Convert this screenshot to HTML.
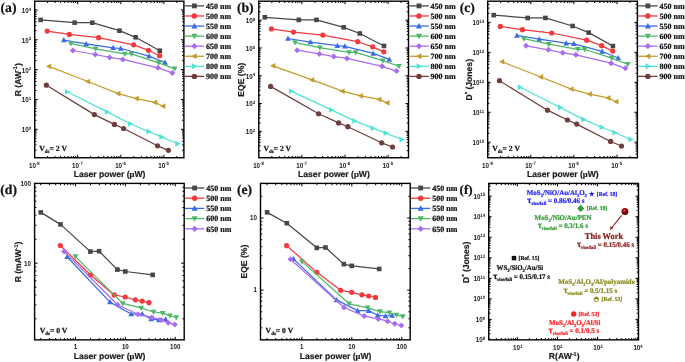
<!DOCTYPE html>
<html><head><meta charset="utf-8"><style>
html,body{margin:0;padding:0;background:#fff;width:685px;height:362px;overflow:hidden}
svg{display:block;will-change:transform}
</style></head><body>
<svg width="685" height="362" viewBox="0 0 685 362" text-rendering="geometricPrecision">
<rect width="685" height="362" fill="#fff"/>
<rect x="34.7" y="1.2" width="149.2" height="156.55" fill="none" stroke="#000" stroke-width="1.4"/>
<path d="M47.57 157.75v-1.8M47.57 1.2v1.8M55.16 157.75v-1.8M55.16 1.2v1.8M60.55 157.75v-1.8M60.55 1.2v1.8M64.73 157.75v-1.8M64.73 1.2v1.8M68.14 157.75v-1.8M68.14 1.2v1.8M71.02 157.75v-1.8M71.02 1.2v1.8M73.52 157.75v-1.8M73.52 1.2v1.8M75.73 157.75v-1.8M75.73 1.2v1.8M77.7 157.75v-3M77.7 1.2v3M90.67 157.75v-1.8M90.67 1.2v1.8M98.26 157.75v-1.8M98.26 1.2v1.8M103.65 157.75v-1.8M103.65 1.2v1.8M107.83 157.75v-1.8M107.83 1.2v1.8M111.24 157.75v-1.8M111.24 1.2v1.8M114.12 157.75v-1.8M114.12 1.2v1.8M116.62 157.75v-1.8M116.62 1.2v1.8M118.83 157.75v-1.8M118.83 1.2v1.8M120.8 157.75v-3M120.8 1.2v3M133.77 157.75v-1.8M133.77 1.2v1.8M141.36 157.75v-1.8M141.36 1.2v1.8M146.75 157.75v-1.8M146.75 1.2v1.8M150.93 157.75v-1.8M150.93 1.2v1.8M154.34 157.75v-1.8M154.34 1.2v1.8M157.22 157.75v-1.8M157.22 1.2v1.8M159.72 157.75v-1.8M159.72 1.2v1.8M161.93 157.75v-1.8M161.93 1.2v1.8M163.9 157.75v-3M163.9 1.2v3M176.87 157.75v-1.8M176.87 1.2v1.8" stroke="#000" stroke-width="1" fill="none"/>
<path d="M34.7 150.16h1.8M183.9 150.16h-1.8M34.7 144.91h1.8M183.9 144.91h-1.8M34.7 141.18h1.8M183.9 141.18h-1.8M34.7 138.29h1.8M183.9 138.29h-1.8M34.7 135.92h1.8M183.9 135.92h-1.8M34.7 133.92h1.8M183.9 133.92h-1.8M34.7 132.19h1.8M183.9 132.19h-1.8M34.7 130.67h1.8M183.9 130.67h-1.8M34.7 129.3h3M183.9 129.3h-3M34.7 120.31h1.8M183.9 120.31h-1.8M34.7 115.06h1.8M183.9 115.06h-1.8M34.7 111.33h1.8M183.9 111.33h-1.8M34.7 108.44h1.8M183.9 108.44h-1.8M34.7 106.07h1.8M183.9 106.07h-1.8M34.7 104.07h1.8M183.9 104.07h-1.8M34.7 102.34h1.8M183.9 102.34h-1.8M34.7 100.82h1.8M183.9 100.82h-1.8M34.7 99.45h3M183.9 99.45h-3M34.7 90.46h1.8M183.9 90.46h-1.8M34.7 85.21h1.8M183.9 85.21h-1.8M34.7 81.48h1.8M183.9 81.48h-1.8M34.7 78.59h1.8M183.9 78.59h-1.8M34.7 76.22h1.8M183.9 76.22h-1.8M34.7 74.22h1.8M183.9 74.22h-1.8M34.7 72.49h1.8M183.9 72.49h-1.8M34.7 70.97h1.8M183.9 70.97h-1.8M34.7 69.6h3M183.9 69.6h-3M34.7 60.61h1.8M183.9 60.61h-1.8M34.7 55.36h1.8M183.9 55.36h-1.8M34.7 51.63h1.8M183.9 51.63h-1.8M34.7 48.74h1.8M183.9 48.74h-1.8M34.7 46.37h1.8M183.9 46.37h-1.8M34.7 44.37h1.8M183.9 44.37h-1.8M34.7 42.64h1.8M183.9 42.64h-1.8M34.7 41.12h1.8M183.9 41.12h-1.8M34.7 39.75h3M183.9 39.75h-3M34.7 30.76h1.8M183.9 30.76h-1.8M34.7 25.51h1.8M183.9 25.51h-1.8M34.7 21.78h1.8M183.9 21.78h-1.8M34.7 18.89h1.8M183.9 18.89h-1.8M34.7 16.52h1.8M183.9 16.52h-1.8M34.7 14.52h1.8M183.9 14.52h-1.8M34.7 12.79h1.8M183.9 12.79h-1.8M34.7 11.27h1.8M183.9 11.27h-1.8M34.7 9.9h3M183.9 9.9h-3" stroke="#000" stroke-width="1" fill="none"/>
<text transform="translate(34.3,167.65) scale(1,1.14)" font-family="Liberation Sans, sans-serif" font-weight="bold" font-size="6.25" fill="#1a1a1a" text-anchor="middle">10<tspan font-size="4.25" dy="-2">-8</tspan></text>
<text transform="translate(77.4,167.65) scale(1,1.14)" font-family="Liberation Sans, sans-serif" font-weight="bold" font-size="6.25" fill="#1a1a1a" text-anchor="middle">10<tspan font-size="4.25" dy="-2">-7</tspan></text>
<text transform="translate(120.5,167.65) scale(1,1.14)" font-family="Liberation Sans, sans-serif" font-weight="bold" font-size="6.25" fill="#1a1a1a" text-anchor="middle">10<tspan font-size="4.25" dy="-2">-6</tspan></text>
<text transform="translate(163.6,167.65) scale(1,1.14)" font-family="Liberation Sans, sans-serif" font-weight="bold" font-size="6.25" fill="#1a1a1a" text-anchor="middle">10<tspan font-size="4.25" dy="-2">-5</tspan></text>
<text transform="translate(31.1,132.2) scale(1,1.14)" font-family="Liberation Sans, sans-serif" font-weight="bold" font-size="6.25" fill="#1a1a1a" text-anchor="end">10<tspan font-size="4.25" dy="-2">0</tspan></text>
<text transform="translate(31.1,102.35) scale(1,1.14)" font-family="Liberation Sans, sans-serif" font-weight="bold" font-size="6.25" fill="#1a1a1a" text-anchor="end">10<tspan font-size="4.25" dy="-2">1</tspan></text>
<text transform="translate(31.1,72.5) scale(1,1.14)" font-family="Liberation Sans, sans-serif" font-weight="bold" font-size="6.25" fill="#1a1a1a" text-anchor="end">10<tspan font-size="4.25" dy="-2">2</tspan></text>
<text transform="translate(31.1,42.65) scale(1,1.14)" font-family="Liberation Sans, sans-serif" font-weight="bold" font-size="6.25" fill="#1a1a1a" text-anchor="end">10<tspan font-size="4.25" dy="-2">3</tspan></text>
<text transform="translate(31.1,12.8) scale(1,1.14)" font-family="Liberation Sans, sans-serif" font-weight="bold" font-size="6.25" fill="#1a1a1a" text-anchor="end">10<tspan font-size="4.25" dy="-2">4</tspan></text>
<path d="M40.6 19.9L74.6 22.7L92.3 22.7L119.5 30.7L135.6 37.3L159.8 50.7" fill="none" stroke="#474747" stroke-width="1.25" stroke-linejoin="round"/>
<rect x="38.3" y="17.6" width="4.6" height="4.6" fill="#474747"/>
<rect x="72.3" y="20.4" width="4.6" height="4.6" fill="#474747"/>
<rect x="90" y="20.4" width="4.6" height="4.6" fill="#474747"/>
<rect x="117.2" y="28.4" width="4.6" height="4.6" fill="#474747"/>
<rect x="133.3" y="35" width="4.6" height="4.6" fill="#474747"/>
<rect x="157.5" y="48.4" width="4.6" height="4.6" fill="#474747"/>
<path d="M47.2 31.1L69.3 34.4L98.6 37.7L133.6 44.8L148.5 50.3L159.6 55.7" fill="none" stroke="#f23a3e" stroke-width="1.25" stroke-linejoin="round"/>
<circle cx="47.2" cy="31.1" r="2.6" fill="#f23a3e"/>
<circle cx="69.3" cy="34.4" r="2.6" fill="#f23a3e"/>
<circle cx="98.6" cy="37.7" r="2.6" fill="#f23a3e"/>
<circle cx="133.6" cy="44.8" r="2.6" fill="#f23a3e"/>
<circle cx="148.5" cy="50.3" r="2.6" fill="#f23a3e"/>
<circle cx="159.6" cy="55.7" r="2.6" fill="#f23a3e"/>
<path d="M63.8 40.1L86.2 43.9L113.2 47.8L120.7 48.5L149.1 56.1L165.1 62.6" fill="none" stroke="#3a6be6" stroke-width="1.25" stroke-linejoin="round"/>
<path d="M63.8 37.1L66.65 42.35L60.95 42.35Z" fill="#3a6be6"/>
<path d="M86.2 40.9L89.05 46.15L83.35 46.15Z" fill="#3a6be6"/>
<path d="M113.2 44.8L116.05 50.05L110.35 50.05Z" fill="#3a6be6"/>
<path d="M120.7 45.5L123.55 50.75L117.85 50.75Z" fill="#3a6be6"/>
<path d="M149.1 53.1L151.95 58.35L146.25 58.35Z" fill="#3a6be6"/>
<path d="M165.1 59.6L167.95 64.85L162.25 64.85Z" fill="#3a6be6"/>
<path d="M70.8 43.4L95.6 48.8L124.8 53.9L131.5 53.9L158.7 62.8L174.7 68.8" fill="none" stroke="#4cb867" stroke-width="1.25" stroke-linejoin="round"/>
<path d="M70.8 46.4L73.65 41.15L67.95 41.15Z" fill="#4cb867"/>
<path d="M95.6 51.8L98.45 46.55L92.75 46.55Z" fill="#4cb867"/>
<path d="M124.8 56.9L127.65 51.65L121.95 51.65Z" fill="#4cb867"/>
<path d="M131.5 56.9L134.35 51.65L128.65 51.65Z" fill="#4cb867"/>
<path d="M158.7 65.8L161.55 60.55L155.85 60.55Z" fill="#4cb867"/>
<path d="M174.7 71.8L177.55 66.55L171.85 66.55Z" fill="#4cb867"/>
<path d="M72.9 50.5L95.3 54.5L109.6 57.4L122.8 59.4L158 67.8L172.3 72.9" fill="none" stroke="#a86cf0" stroke-width="1.25" stroke-linejoin="round"/>
<path d="M72.9 47.5L75.9 50.5L72.9 53.5L69.9 50.5Z" fill="#a86cf0"/>
<path d="M95.3 51.5L98.3 54.5L95.3 57.5L92.3 54.5Z" fill="#a86cf0"/>
<path d="M109.6 54.4L112.6 57.4L109.6 60.4L106.6 57.4Z" fill="#a86cf0"/>
<path d="M122.8 56.4L125.8 59.4L122.8 62.4L119.8 59.4Z" fill="#a86cf0"/>
<path d="M158 64.8L161 67.8L158 70.8L155 67.8Z" fill="#a86cf0"/>
<path d="M172.3 69.9L175.3 72.9L172.3 75.9L169.3 72.9Z" fill="#a86cf0"/>
<path d="M48.9 66.3L87.8 81.5L118.2 93.6L136.5 98.6L155 102.4L163.1 106.2" fill="none" stroke="#c49b2c" stroke-width="1.25" stroke-linejoin="round"/>
<path d="M45.9 66.3L51.15 63.45L51.15 69.15Z" fill="#c49b2c"/>
<path d="M84.8 81.5L90.05 78.65L90.05 84.35Z" fill="#c49b2c"/>
<path d="M115.2 93.6L120.45 90.75L120.45 96.45Z" fill="#c49b2c"/>
<path d="M133.5 98.6L138.75 95.75L138.75 101.45Z" fill="#c49b2c"/>
<path d="M152 102.4L157.25 99.55L157.25 105.25Z" fill="#c49b2c"/>
<path d="M160.1 106.2L165.35 103.35L165.35 109.05Z" fill="#c49b2c"/>
<path d="M67.1 91.8L107.2 111.9L130.4 123.8L148.7 131.6L161.6 136.9L177.6 143.8" fill="none" stroke="#4fe3d6" stroke-width="1.25" stroke-linejoin="round"/>
<path d="M70.1 91.8L64.85 88.95L64.85 94.65Z" fill="#4fe3d6"/>
<path d="M110.2 111.9L104.95 109.05L104.95 114.75Z" fill="#4fe3d6"/>
<path d="M133.4 123.8L128.15 120.95L128.15 126.65Z" fill="#4fe3d6"/>
<path d="M151.7 131.6L146.45 128.75L146.45 134.45Z" fill="#4fe3d6"/>
<path d="M164.6 136.9L159.35 134.05L159.35 139.75Z" fill="#4fe3d6"/>
<path d="M180.6 143.8L175.35 140.95L175.35 146.65Z" fill="#4fe3d6"/>
<path d="M46.4 85.2L94.4 114.6L114.4 124.4L123.6 128.5L157.5 145.8L168.4 150.3" fill="none" stroke="#6e3d3d" stroke-width="1.25" stroke-linejoin="round"/>
<circle cx="46.4" cy="85.2" r="2.6" fill="#6e3d3d"/>
<circle cx="94.4" cy="114.6" r="2.6" fill="#6e3d3d"/>
<circle cx="114.4" cy="124.4" r="2.6" fill="#6e3d3d"/>
<circle cx="123.6" cy="128.5" r="2.6" fill="#6e3d3d"/>
<circle cx="157.5" cy="145.8" r="2.6" fill="#6e3d3d"/>
<circle cx="168.4" cy="150.3" r="2.6" fill="#6e3d3d"/>
<path d="M184.7 5.9H204.1" stroke="#474747" stroke-width="1.3"/>
<rect x="191.99" y="3.49" width="4.83" height="4.83" fill="#474747"/>
<text x="206" y="8.7" font-family="Liberation Serif, serif" font-weight="bold" font-size="8" fill="#111" stroke="#111" stroke-width="0.22">450 nm</text>
<path d="M184.7 15.97H204.1" stroke="#f23a3e" stroke-width="1.3"/>
<circle cx="194.4" cy="15.97" r="2.73" fill="#f23a3e"/>
<text x="206" y="18.77" font-family="Liberation Serif, serif" font-weight="bold" font-size="8" fill="#111" stroke="#111" stroke-width="0.22">500 nm</text>
<path d="M184.7 26.04H204.1" stroke="#3a6be6" stroke-width="1.3"/>
<path d="M194.4 22.89L197.39 28.4L191.41 28.4Z" fill="#3a6be6"/>
<text x="206" y="28.84" font-family="Liberation Serif, serif" font-weight="bold" font-size="8" fill="#111" stroke="#111" stroke-width="0.22">550 nm</text>
<path d="M184.7 36.11H204.1" stroke="#4cb867" stroke-width="1.3"/>
<path d="M194.4 39.26L197.39 33.75L191.41 33.75Z" fill="#4cb867"/>
<text x="206" y="38.91" font-family="Liberation Serif, serif" font-weight="bold" font-size="8" fill="#111" stroke="#111" stroke-width="0.22">600 nm</text>
<path d="M184.7 46.18H204.1" stroke="#a86cf0" stroke-width="1.3"/>
<path d="M194.4 43.03L197.55 46.18L194.4 49.33L191.25 46.18Z" fill="#a86cf0"/>
<text x="206" y="48.98" font-family="Liberation Serif, serif" font-weight="bold" font-size="8" fill="#111" stroke="#111" stroke-width="0.22">650 nm</text>
<path d="M184.7 56.25H204.1" stroke="#c49b2c" stroke-width="1.3"/>
<path d="M191.25 56.25L196.76 53.26L196.76 59.24Z" fill="#c49b2c"/>
<text x="206" y="59.05" font-family="Liberation Serif, serif" font-weight="bold" font-size="8" fill="#111" stroke="#111" stroke-width="0.22">700 nm</text>
<path d="M184.7 66.32H204.1" stroke="#4fe3d6" stroke-width="1.3"/>
<path d="M197.55 66.32L192.04 63.33L192.04 69.31Z" fill="#4fe3d6"/>
<text x="206" y="69.12" font-family="Liberation Serif, serif" font-weight="bold" font-size="8" fill="#111" stroke="#111" stroke-width="0.22">800 nm</text>
<path d="M184.7 76.39H204.1" stroke="#6e3d3d" stroke-width="1.3"/>
<circle cx="194.4" cy="76.39" r="2.73" fill="#6e3d3d"/>
<text x="206" y="79.19" font-family="Liberation Serif, serif" font-weight="bold" font-size="8" fill="#111" stroke="#111" stroke-width="0.22">900 nm</text>
<text x="0.5" y="11.6" font-family="Liberation Serif, serif" font-weight="bold" font-size="13.7" fill="#111" stroke="#111" stroke-width="0.22">(a)</text>
<text x="109.6" y="176.8" font-family="Liberation Sans, sans-serif" font-weight="bold" font-size="8.6" fill="#1a1a1a" stroke="#1a1a1a" stroke-width="0.18" text-anchor="middle">Laser power (<tspan font-family="Liberation Serif, serif">μ</tspan>W)</text>
<text transform="translate(20.6,79.77) rotate(-90)" font-family="Liberation Sans, sans-serif" font-weight="bold" font-size="8.6" fill="#1a1a1a" stroke="#1a1a1a" stroke-width="0.18" text-anchor="middle">R (AW<tspan font-size="5.5" dy="-3.3">-1</tspan><tspan dy="3.3">)</tspan></text>
<text x="39.3" y="151" font-family="Liberation Serif, serif" font-weight="bold" font-size="7.7" fill="#111" stroke="#111" stroke-width="0.22">V<tspan font-size="4.9" dy="2.0">ds</tspan><tspan dy="-2.0">= 2 V</tspan></text>
<rect x="258.8" y="1.2" width="149.7" height="156.55" fill="none" stroke="#000" stroke-width="1.4"/>
<path d="M271.77 157.75v-1.8M271.77 1.2v1.8M279.36 157.75v-1.8M279.36 1.2v1.8M284.75 157.75v-1.8M284.75 1.2v1.8M288.93 157.75v-1.8M288.93 1.2v1.8M292.34 157.75v-1.8M292.34 1.2v1.8M295.22 157.75v-1.8M295.22 1.2v1.8M297.72 157.75v-1.8M297.72 1.2v1.8M299.93 157.75v-1.8M299.93 1.2v1.8M301.9 157.75v-3M301.9 1.2v3M314.87 157.75v-1.8M314.87 1.2v1.8M322.46 157.75v-1.8M322.46 1.2v1.8M327.85 157.75v-1.8M327.85 1.2v1.8M332.03 157.75v-1.8M332.03 1.2v1.8M335.44 157.75v-1.8M335.44 1.2v1.8M338.32 157.75v-1.8M338.32 1.2v1.8M340.82 157.75v-1.8M340.82 1.2v1.8M343.03 157.75v-1.8M343.03 1.2v1.8M345 157.75v-3M345 1.2v3M357.97 157.75v-1.8M357.97 1.2v1.8M365.56 157.75v-1.8M365.56 1.2v1.8M370.95 157.75v-1.8M370.95 1.2v1.8M375.13 157.75v-1.8M375.13 1.2v1.8M378.54 157.75v-1.8M378.54 1.2v1.8M381.42 157.75v-1.8M381.42 1.2v1.8M383.92 157.75v-1.8M383.92 1.2v1.8M386.13 157.75v-1.8M386.13 1.2v1.8M388.1 157.75v-3M388.1 1.2v3M401.07 157.75v-1.8M401.07 1.2v1.8" stroke="#000" stroke-width="1" fill="none"/>
<path d="M258.8 150.74h1.8M408.5 150.74h-1.8M258.8 145.85h1.8M408.5 145.85h-1.8M258.8 142.37h1.8M408.5 142.37h-1.8M258.8 139.68h1.8M408.5 139.68h-1.8M258.8 137.48h1.8M408.5 137.48h-1.8M258.8 135.62h1.8M408.5 135.62h-1.8M258.8 134.01h1.8M408.5 134.01h-1.8M258.8 132.59h1.8M408.5 132.59h-1.8M258.8 131.32h3M408.5 131.32h-3M258.8 122.96h1.8M408.5 122.96h-1.8M258.8 118.07h1.8M408.5 118.07h-1.8M258.8 114.59h1.8M408.5 114.59h-1.8M258.8 111.9h1.8M408.5 111.9h-1.8M258.8 109.7h1.8M408.5 109.7h-1.8M258.8 107.84h1.8M408.5 107.84h-1.8M258.8 106.23h1.8M408.5 106.23h-1.8M258.8 104.81h1.8M408.5 104.81h-1.8M258.8 103.54h3M408.5 103.54h-3M258.8 95.18h1.8M408.5 95.18h-1.8M258.8 90.29h1.8M408.5 90.29h-1.8M258.8 86.81h1.8M408.5 86.81h-1.8M258.8 84.12h1.8M408.5 84.12h-1.8M258.8 81.92h1.8M408.5 81.92h-1.8M258.8 80.06h1.8M408.5 80.06h-1.8M258.8 78.45h1.8M408.5 78.45h-1.8M258.8 77.03h1.8M408.5 77.03h-1.8M258.8 75.76h3M408.5 75.76h-3M258.8 67.4h1.8M408.5 67.4h-1.8M258.8 62.51h1.8M408.5 62.51h-1.8M258.8 59.03h1.8M408.5 59.03h-1.8M258.8 56.34h1.8M408.5 56.34h-1.8M258.8 54.14h1.8M408.5 54.14h-1.8M258.8 52.28h1.8M408.5 52.28h-1.8M258.8 50.67h1.8M408.5 50.67h-1.8M258.8 49.25h1.8M408.5 49.25h-1.8M258.8 47.98h3M408.5 47.98h-3M258.8 39.62h1.8M408.5 39.62h-1.8M258.8 34.73h1.8M408.5 34.73h-1.8M258.8 31.25h1.8M408.5 31.25h-1.8M258.8 28.56h1.8M408.5 28.56h-1.8M258.8 26.36h1.8M408.5 26.36h-1.8M258.8 24.5h1.8M408.5 24.5h-1.8M258.8 22.89h1.8M408.5 22.89h-1.8M258.8 21.47h1.8M408.5 21.47h-1.8M258.8 20.2h3M408.5 20.2h-3M258.8 11.84h1.8M408.5 11.84h-1.8M258.8 6.95h1.8M408.5 6.95h-1.8M258.8 3.47h1.8M408.5 3.47h-1.8" stroke="#000" stroke-width="1" fill="none"/>
<text transform="translate(258.5,167.65) scale(1,1.14)" font-family="Liberation Sans, sans-serif" font-weight="bold" font-size="6.25" fill="#1a1a1a" text-anchor="middle">10<tspan font-size="4.25" dy="-2">-8</tspan></text>
<text transform="translate(301.6,167.65) scale(1,1.14)" font-family="Liberation Sans, sans-serif" font-weight="bold" font-size="6.25" fill="#1a1a1a" text-anchor="middle">10<tspan font-size="4.25" dy="-2">-7</tspan></text>
<text transform="translate(344.7,167.65) scale(1,1.14)" font-family="Liberation Sans, sans-serif" font-weight="bold" font-size="6.25" fill="#1a1a1a" text-anchor="middle">10<tspan font-size="4.25" dy="-2">-6</tspan></text>
<text transform="translate(387.8,167.65) scale(1,1.14)" font-family="Liberation Sans, sans-serif" font-weight="bold" font-size="6.25" fill="#1a1a1a" text-anchor="middle">10<tspan font-size="4.25" dy="-2">-5</tspan></text>
<text transform="translate(255.2,134.22) scale(1,1.14)" font-family="Liberation Sans, sans-serif" font-weight="bold" font-size="6.25" fill="#1a1a1a" text-anchor="end">10<tspan font-size="4.25" dy="-2">2</tspan></text>
<text transform="translate(255.2,106.44) scale(1,1.14)" font-family="Liberation Sans, sans-serif" font-weight="bold" font-size="6.25" fill="#1a1a1a" text-anchor="end">10<tspan font-size="4.25" dy="-2">3</tspan></text>
<text transform="translate(255.2,78.66) scale(1,1.14)" font-family="Liberation Sans, sans-serif" font-weight="bold" font-size="6.25" fill="#1a1a1a" text-anchor="end">10<tspan font-size="4.25" dy="-2">4</tspan></text>
<text transform="translate(255.2,50.88) scale(1,1.14)" font-family="Liberation Sans, sans-serif" font-weight="bold" font-size="6.25" fill="#1a1a1a" text-anchor="end">10<tspan font-size="4.25" dy="-2">5</tspan></text>
<text transform="translate(255.2,23.1) scale(1,1.14)" font-family="Liberation Sans, sans-serif" font-weight="bold" font-size="6.25" fill="#1a1a1a" text-anchor="end">10<tspan font-size="4.25" dy="-2">6</tspan></text>
<path d="M264.8 17.28L298.8 19.88L316.5 19.88L343.7 27.33L359.8 33.47L384 45.94" fill="none" stroke="#474747" stroke-width="1.25" stroke-linejoin="round"/>
<rect x="262.5" y="14.98" width="4.6" height="4.6" fill="#474747"/>
<rect x="296.5" y="17.58" width="4.6" height="4.6" fill="#474747"/>
<rect x="314.2" y="17.58" width="4.6" height="4.6" fill="#474747"/>
<rect x="341.4" y="25.03" width="4.6" height="4.6" fill="#474747"/>
<rect x="357.5" y="31.17" width="4.6" height="4.6" fill="#474747"/>
<rect x="381.7" y="43.64" width="4.6" height="4.6" fill="#474747"/>
<path d="M271.4 28.97L293.5 32.04L322.8 35.11L357.8 41.72L372.7 46.84L383.8 51.87" fill="none" stroke="#f23a3e" stroke-width="1.25" stroke-linejoin="round"/>
<circle cx="271.4" cy="28.97" r="2.6" fill="#f23a3e"/>
<circle cx="293.5" cy="32.04" r="2.6" fill="#f23a3e"/>
<circle cx="322.8" cy="35.11" r="2.6" fill="#f23a3e"/>
<circle cx="357.8" cy="41.72" r="2.6" fill="#f23a3e"/>
<circle cx="372.7" cy="46.84" r="2.6" fill="#f23a3e"/>
<circle cx="383.8" cy="51.87" r="2.6" fill="#f23a3e"/>
<path d="M288 38.5L310.4 42.03L337.4 45.66L344.9 46.32L373.3 53.39L389.3 59.44" fill="none" stroke="#3a6be6" stroke-width="1.25" stroke-linejoin="round"/>
<path d="M288 35.5L290.85 40.75L285.15 40.75Z" fill="#3a6be6"/>
<path d="M310.4 39.03L313.25 44.28L307.55 44.28Z" fill="#3a6be6"/>
<path d="M337.4 42.66L340.25 47.91L334.55 47.91Z" fill="#3a6be6"/>
<path d="M344.9 43.32L347.75 48.57L342.05 48.57Z" fill="#3a6be6"/>
<path d="M373.3 50.39L376.15 55.64L370.45 55.64Z" fill="#3a6be6"/>
<path d="M389.3 56.44L392.15 61.69L386.45 61.69Z" fill="#3a6be6"/>
<path d="M295 42.62L319.8 47.64L349 52.39L355.7 52.39L382.9 60.67L398.9 66.26" fill="none" stroke="#4cb867" stroke-width="1.25" stroke-linejoin="round"/>
<path d="M295 45.62L297.85 40.37L292.15 40.37Z" fill="#4cb867"/>
<path d="M319.8 50.64L322.65 45.39L316.95 45.39Z" fill="#4cb867"/>
<path d="M349 55.39L351.85 50.14L346.15 50.14Z" fill="#4cb867"/>
<path d="M355.7 55.39L358.55 50.14L352.85 50.14Z" fill="#4cb867"/>
<path d="M382.9 63.67L385.75 58.42L380.05 58.42Z" fill="#4cb867"/>
<path d="M398.9 69.26L401.75 64.01L396.05 64.01Z" fill="#4cb867"/>
<path d="M297.1 50.19L319.5 53.91L333.8 56.61L347 58.47L382.2 66.29L396.5 71.04" fill="none" stroke="#a86cf0" stroke-width="1.25" stroke-linejoin="round"/>
<path d="M297.1 47.19L300.1 50.19L297.1 53.19L294.1 50.19Z" fill="#a86cf0"/>
<path d="M319.5 50.91L322.5 53.91L319.5 56.91L316.5 53.91Z" fill="#a86cf0"/>
<path d="M333.8 53.61L336.8 56.61L333.8 59.61L330.8 56.61Z" fill="#a86cf0"/>
<path d="M347 55.47L350 58.47L347 61.47L344 58.47Z" fill="#a86cf0"/>
<path d="M382.2 63.29L385.2 66.29L382.2 69.29L379.2 66.29Z" fill="#a86cf0"/>
<path d="M396.5 68.04L399.5 71.04L396.5 74.04L393.5 71.04Z" fill="#a86cf0"/>
<path d="M273.1 65.79L312 79.94L342.4 91.2L360.7 95.85L379.2 99.39L387.3 102.92" fill="none" stroke="#c49b2c" stroke-width="1.25" stroke-linejoin="round"/>
<path d="M270.1 65.79L275.35 62.94L275.35 68.64Z" fill="#c49b2c"/>
<path d="M309 79.94L314.25 77.09L314.25 82.79Z" fill="#c49b2c"/>
<path d="M339.4 91.2L344.65 88.35L344.65 94.05Z" fill="#c49b2c"/>
<path d="M357.7 95.85L362.95 93L362.95 98.7Z" fill="#c49b2c"/>
<path d="M376.2 99.39L381.45 96.54L381.45 102.24Z" fill="#c49b2c"/>
<path d="M384.3 102.92L389.55 100.07L389.55 105.77Z" fill="#c49b2c"/>
<path d="M291.3 91.13L331.4 109.84L354.6 120.91L372.9 128.17L385.8 133.11L401.8 139.53" fill="none" stroke="#4fe3d6" stroke-width="1.25" stroke-linejoin="round"/>
<path d="M294.3 91.13L289.05 88.28L289.05 93.98Z" fill="#4fe3d6"/>
<path d="M334.4 109.84L329.15 106.99L329.15 112.69Z" fill="#4fe3d6"/>
<path d="M357.6 120.91L352.35 118.06L352.35 123.76Z" fill="#4fe3d6"/>
<path d="M375.9 128.17L370.65 125.32L370.65 131.02Z" fill="#4fe3d6"/>
<path d="M388.8 133.11L383.55 130.26L383.55 135.96Z" fill="#4fe3d6"/>
<path d="M404.8 139.53L399.55 136.68L399.55 142.38Z" fill="#4fe3d6"/>
<path d="M270.6 86.41L318.6 113.77L338.6 122.89L347.8 126.71L381.7 142.81L392.6 147" fill="none" stroke="#6e3d3d" stroke-width="1.25" stroke-linejoin="round"/>
<circle cx="270.6" cy="86.41" r="2.6" fill="#6e3d3d"/>
<circle cx="318.6" cy="113.77" r="2.6" fill="#6e3d3d"/>
<circle cx="338.6" cy="122.89" r="2.6" fill="#6e3d3d"/>
<circle cx="347.8" cy="126.71" r="2.6" fill="#6e3d3d"/>
<circle cx="381.7" cy="142.81" r="2.6" fill="#6e3d3d"/>
<circle cx="392.6" cy="147" r="2.6" fill="#6e3d3d"/>
<path d="M409.3 5.9H428.7" stroke="#474747" stroke-width="1.3"/>
<rect x="416.58" y="3.49" width="4.83" height="4.83" fill="#474747"/>
<text x="430.6" y="8.7" font-family="Liberation Serif, serif" font-weight="bold" font-size="8" fill="#111" stroke="#111" stroke-width="0.22">450 nm</text>
<path d="M409.3 15.97H428.7" stroke="#f23a3e" stroke-width="1.3"/>
<circle cx="419" cy="15.97" r="2.73" fill="#f23a3e"/>
<text x="430.6" y="18.77" font-family="Liberation Serif, serif" font-weight="bold" font-size="8" fill="#111" stroke="#111" stroke-width="0.22">500 nm</text>
<path d="M409.3 26.04H428.7" stroke="#3a6be6" stroke-width="1.3"/>
<path d="M419 22.89L421.99 28.4L416.01 28.4Z" fill="#3a6be6"/>
<text x="430.6" y="28.84" font-family="Liberation Serif, serif" font-weight="bold" font-size="8" fill="#111" stroke="#111" stroke-width="0.22">550 nm</text>
<path d="M409.3 36.11H428.7" stroke="#4cb867" stroke-width="1.3"/>
<path d="M419 39.26L421.99 33.75L416.01 33.75Z" fill="#4cb867"/>
<text x="430.6" y="38.91" font-family="Liberation Serif, serif" font-weight="bold" font-size="8" fill="#111" stroke="#111" stroke-width="0.22">600 nm</text>
<path d="M409.3 46.18H428.7" stroke="#a86cf0" stroke-width="1.3"/>
<path d="M419 43.03L422.15 46.18L419 49.33L415.85 46.18Z" fill="#a86cf0"/>
<text x="430.6" y="48.98" font-family="Liberation Serif, serif" font-weight="bold" font-size="8" fill="#111" stroke="#111" stroke-width="0.22">650 nm</text>
<path d="M409.3 56.25H428.7" stroke="#c49b2c" stroke-width="1.3"/>
<path d="M415.85 56.25L421.36 53.26L421.36 59.24Z" fill="#c49b2c"/>
<text x="430.6" y="59.05" font-family="Liberation Serif, serif" font-weight="bold" font-size="8" fill="#111" stroke="#111" stroke-width="0.22">700 nm</text>
<path d="M409.3 66.32H428.7" stroke="#4fe3d6" stroke-width="1.3"/>
<path d="M422.15 66.32L416.64 63.33L416.64 69.31Z" fill="#4fe3d6"/>
<text x="430.6" y="69.12" font-family="Liberation Serif, serif" font-weight="bold" font-size="8" fill="#111" stroke="#111" stroke-width="0.22">800 nm</text>
<path d="M409.3 76.39H428.7" stroke="#6e3d3d" stroke-width="1.3"/>
<circle cx="419" cy="76.39" r="2.73" fill="#6e3d3d"/>
<text x="430.6" y="79.19" font-family="Liberation Serif, serif" font-weight="bold" font-size="8" fill="#111" stroke="#111" stroke-width="0.22">900 nm</text>
<text x="236.9" y="11.6" font-family="Liberation Serif, serif" font-weight="bold" font-size="13.7" fill="#111" stroke="#111" stroke-width="0.22">(b)</text>
<text x="333.95" y="176.8" font-family="Liberation Sans, sans-serif" font-weight="bold" font-size="8.6" fill="#1a1a1a" stroke="#1a1a1a" stroke-width="0.18" text-anchor="middle">Laser power (<tspan font-family="Liberation Serif, serif">μ</tspan>W)</text>
<text transform="translate(244.3,79.77) rotate(-90)" font-family="Liberation Sans, sans-serif" font-weight="bold" font-size="8.6" fill="#1a1a1a" stroke="#1a1a1a" stroke-width="0.18" text-anchor="middle">EQE (%)</text>
<text x="263.4" y="151" font-family="Liberation Serif, serif" font-weight="bold" font-size="7.7" fill="#111" stroke="#111" stroke-width="0.22">V<tspan font-size="4.9" dy="2.0">ds</tspan><tspan dy="-2.0">= 2 V</tspan></text>
<rect x="487.7" y="1.2" width="149.7" height="156.55" fill="none" stroke="#000" stroke-width="1.4"/>
<path d="M500.67 157.75v-1.8M500.67 1.2v1.8M508.26 157.75v-1.8M508.26 1.2v1.8M513.65 157.75v-1.8M513.65 1.2v1.8M517.83 157.75v-1.8M517.83 1.2v1.8M521.24 157.75v-1.8M521.24 1.2v1.8M524.12 157.75v-1.8M524.12 1.2v1.8M526.62 157.75v-1.8M526.62 1.2v1.8M528.83 157.75v-1.8M528.83 1.2v1.8M530.8 157.75v-3M530.8 1.2v3M543.77 157.75v-1.8M543.77 1.2v1.8M551.36 157.75v-1.8M551.36 1.2v1.8M556.75 157.75v-1.8M556.75 1.2v1.8M560.93 157.75v-1.8M560.93 1.2v1.8M564.34 157.75v-1.8M564.34 1.2v1.8M567.22 157.75v-1.8M567.22 1.2v1.8M569.72 157.75v-1.8M569.72 1.2v1.8M571.93 157.75v-1.8M571.93 1.2v1.8M573.9 157.75v-3M573.9 1.2v3M586.87 157.75v-1.8M586.87 1.2v1.8M594.46 157.75v-1.8M594.46 1.2v1.8M599.85 157.75v-1.8M599.85 1.2v1.8M604.03 157.75v-1.8M604.03 1.2v1.8M607.44 157.75v-1.8M607.44 1.2v1.8M610.32 157.75v-1.8M610.32 1.2v1.8M612.82 157.75v-1.8M612.82 1.2v1.8M615.03 157.75v-1.8M615.03 1.2v1.8M617 157.75v-3M617 1.2v3M629.97 157.75v-1.8M629.97 1.2v1.8" stroke="#000" stroke-width="1" fill="none"/>
<path d="M487.7 154.12h1.8M637.4 154.12h-1.8M487.7 151.22h1.8M637.4 151.22h-1.8M487.7 148.84h1.8M637.4 148.84h-1.8M487.7 146.84h1.8M637.4 146.84h-1.8M487.7 145.1h1.8M637.4 145.1h-1.8M487.7 143.57h1.8M637.4 143.57h-1.8M487.7 142.2h3M637.4 142.2h-3M487.7 133.18h1.8M637.4 133.18h-1.8M487.7 127.91h1.8M637.4 127.91h-1.8M487.7 124.17h1.8M637.4 124.17h-1.8M487.7 121.27h1.8M637.4 121.27h-1.8M487.7 118.89h1.8M637.4 118.89h-1.8M487.7 116.89h1.8M637.4 116.89h-1.8M487.7 115.15h1.8M637.4 115.15h-1.8M487.7 113.62h1.8M637.4 113.62h-1.8M487.7 112.25h3M637.4 112.25h-3M487.7 103.23h1.8M637.4 103.23h-1.8M487.7 97.96h1.8M637.4 97.96h-1.8M487.7 94.22h1.8M637.4 94.22h-1.8M487.7 91.32h1.8M637.4 91.32h-1.8M487.7 88.94h1.8M637.4 88.94h-1.8M487.7 86.94h1.8M637.4 86.94h-1.8M487.7 85.2h1.8M637.4 85.2h-1.8M487.7 83.67h1.8M637.4 83.67h-1.8M487.7 82.3h3M637.4 82.3h-3M487.7 73.28h1.8M637.4 73.28h-1.8M487.7 68.01h1.8M637.4 68.01h-1.8M487.7 64.27h1.8M637.4 64.27h-1.8M487.7 61.37h1.8M637.4 61.37h-1.8M487.7 58.99h1.8M637.4 58.99h-1.8M487.7 56.99h1.8M637.4 56.99h-1.8M487.7 55.25h1.8M637.4 55.25h-1.8M487.7 53.72h1.8M637.4 53.72h-1.8M487.7 52.35h3M637.4 52.35h-3M487.7 43.33h1.8M637.4 43.33h-1.8M487.7 38.06h1.8M637.4 38.06h-1.8M487.7 34.32h1.8M637.4 34.32h-1.8M487.7 31.42h1.8M637.4 31.42h-1.8M487.7 29.04h1.8M637.4 29.04h-1.8M487.7 27.04h1.8M637.4 27.04h-1.8M487.7 25.3h1.8M637.4 25.3h-1.8M487.7 23.77h1.8M637.4 23.77h-1.8M487.7 22.4h3M637.4 22.4h-3M487.7 13.38h1.8M637.4 13.38h-1.8M487.7 8.11h1.8M637.4 8.11h-1.8M487.7 4.37h1.8M637.4 4.37h-1.8" stroke="#000" stroke-width="1" fill="none"/>
<text transform="translate(487.4,167.65) scale(1,1.14)" font-family="Liberation Sans, sans-serif" font-weight="bold" font-size="6.25" fill="#1a1a1a" text-anchor="middle">10<tspan font-size="4.25" dy="-2">-8</tspan></text>
<text transform="translate(530.5,167.65) scale(1,1.14)" font-family="Liberation Sans, sans-serif" font-weight="bold" font-size="6.25" fill="#1a1a1a" text-anchor="middle">10<tspan font-size="4.25" dy="-2">-7</tspan></text>
<text transform="translate(573.6,167.65) scale(1,1.14)" font-family="Liberation Sans, sans-serif" font-weight="bold" font-size="6.25" fill="#1a1a1a" text-anchor="middle">10<tspan font-size="4.25" dy="-2">-6</tspan></text>
<text transform="translate(616.7,167.65) scale(1,1.14)" font-family="Liberation Sans, sans-serif" font-weight="bold" font-size="6.25" fill="#1a1a1a" text-anchor="middle">10<tspan font-size="4.25" dy="-2">-5</tspan></text>
<text transform="translate(484.1,145.1) scale(1,1.14)" font-family="Liberation Sans, sans-serif" font-weight="bold" font-size="6.25" fill="#1a1a1a" text-anchor="end">10<tspan font-size="4.25" dy="-2">10</tspan></text>
<text transform="translate(484.1,115.15) scale(1,1.14)" font-family="Liberation Sans, sans-serif" font-weight="bold" font-size="6.25" fill="#1a1a1a" text-anchor="end">10<tspan font-size="4.25" dy="-2">11</tspan></text>
<text transform="translate(484.1,85.2) scale(1,1.14)" font-family="Liberation Sans, sans-serif" font-weight="bold" font-size="6.25" fill="#1a1a1a" text-anchor="end">10<tspan font-size="4.25" dy="-2">12</tspan></text>
<text transform="translate(484.1,55.25) scale(1,1.14)" font-family="Liberation Sans, sans-serif" font-weight="bold" font-size="6.25" fill="#1a1a1a" text-anchor="end">10<tspan font-size="4.25" dy="-2">13</tspan></text>
<text transform="translate(484.1,25.3) scale(1,1.14)" font-family="Liberation Sans, sans-serif" font-weight="bold" font-size="6.25" fill="#1a1a1a" text-anchor="end">10<tspan font-size="4.25" dy="-2">14</tspan></text>
<path d="M493.7 15.15L527.7 17.96L545.4 17.96L572.6 25.99L588.7 32.61L612.9 46.06" fill="none" stroke="#474747" stroke-width="1.25" stroke-linejoin="round"/>
<rect x="491.4" y="12.85" width="4.6" height="4.6" fill="#474747"/>
<rect x="525.4" y="15.66" width="4.6" height="4.6" fill="#474747"/>
<rect x="543.1" y="15.66" width="4.6" height="4.6" fill="#474747"/>
<rect x="570.3" y="23.69" width="4.6" height="4.6" fill="#474747"/>
<rect x="586.4" y="30.31" width="4.6" height="4.6" fill="#474747"/>
<rect x="610.6" y="43.76" width="4.6" height="4.6" fill="#474747"/>
<path d="M500.3 26.39L522.4 29.7L551.7 33.01L586.7 40.14L601.6 45.65L612.7 51.07" fill="none" stroke="#f23a3e" stroke-width="1.25" stroke-linejoin="round"/>
<circle cx="500.3" cy="26.39" r="2.6" fill="#f23a3e"/>
<circle cx="522.4" cy="29.7" r="2.6" fill="#f23a3e"/>
<circle cx="551.7" cy="33.01" r="2.6" fill="#f23a3e"/>
<circle cx="586.7" cy="40.14" r="2.6" fill="#f23a3e"/>
<circle cx="601.6" cy="45.65" r="2.6" fill="#f23a3e"/>
<circle cx="612.7" cy="51.07" r="2.6" fill="#f23a3e"/>
<path d="M516.9 35.42L539.3 39.23L566.3 43.15L573.8 43.85L602.2 51.47L618.2 58" fill="none" stroke="#3a6be6" stroke-width="1.25" stroke-linejoin="round"/>
<path d="M516.9 32.42L519.75 37.67L514.05 37.67Z" fill="#3a6be6"/>
<path d="M539.3 36.23L542.15 41.48L536.45 41.48Z" fill="#3a6be6"/>
<path d="M566.3 40.15L569.15 45.4L563.45 45.4Z" fill="#3a6be6"/>
<path d="M573.8 40.85L576.65 46.1L570.95 46.1Z" fill="#3a6be6"/>
<path d="M602.2 48.47L605.05 53.72L599.35 53.72Z" fill="#3a6be6"/>
<path d="M618.2 55L621.05 60.25L615.35 60.25Z" fill="#3a6be6"/>
<path d="M523.9 38.73L548.7 44.15L577.9 49.27L584.6 49.27L611.8 58.2L627.8 64.22" fill="none" stroke="#4cb867" stroke-width="1.25" stroke-linejoin="round"/>
<path d="M523.9 41.73L526.75 36.48L521.05 36.48Z" fill="#4cb867"/>
<path d="M548.7 47.15L551.55 41.9L545.85 41.9Z" fill="#4cb867"/>
<path d="M577.9 52.27L580.75 47.02L575.05 47.02Z" fill="#4cb867"/>
<path d="M584.6 52.27L587.45 47.02L581.75 47.02Z" fill="#4cb867"/>
<path d="M611.8 61.2L614.65 55.95L608.95 55.95Z" fill="#4cb867"/>
<path d="M627.8 67.22L630.65 61.97L624.95 61.97Z" fill="#4cb867"/>
<path d="M526 45.85L548.4 49.87L562.7 52.78L575.9 54.78L611.1 63.21L625.4 68.33" fill="none" stroke="#a86cf0" stroke-width="1.25" stroke-linejoin="round"/>
<path d="M526 42.85L529 45.85L526 48.85L523 45.85Z" fill="#a86cf0"/>
<path d="M548.4 46.87L551.4 49.87L548.4 52.87L545.4 49.87Z" fill="#a86cf0"/>
<path d="M562.7 49.78L565.7 52.78L562.7 55.78L559.7 52.78Z" fill="#a86cf0"/>
<path d="M575.9 51.78L578.9 54.78L575.9 57.78L572.9 54.78Z" fill="#a86cf0"/>
<path d="M611.1 60.21L614.1 63.21L611.1 66.21L608.1 63.21Z" fill="#a86cf0"/>
<path d="M625.4 65.33L628.4 68.33L625.4 71.33L622.4 68.33Z" fill="#a86cf0"/>
<path d="M502 61.71L540.9 76.96L571.3 89.1L589.6 94.12L608.1 97.93L616.2 101.74" fill="none" stroke="#c49b2c" stroke-width="1.25" stroke-linejoin="round"/>
<path d="M499 61.71L504.25 58.86L504.25 64.56Z" fill="#c49b2c"/>
<path d="M537.9 76.96L543.15 74.11L543.15 79.81Z" fill="#c49b2c"/>
<path d="M568.3 89.1L573.55 86.25L573.55 91.95Z" fill="#c49b2c"/>
<path d="M586.6 94.12L591.85 91.27L591.85 96.97Z" fill="#c49b2c"/>
<path d="M605.1 97.93L610.35 95.08L610.35 100.78Z" fill="#c49b2c"/>
<path d="M613.2 101.74L618.45 98.89L618.45 104.59Z" fill="#c49b2c"/>
<path d="M520.2 87.29L560.3 107.46L583.5 119.4L601.8 127.23L614.7 132.54L630.7 139.47" fill="none" stroke="#4fe3d6" stroke-width="1.25" stroke-linejoin="round"/>
<path d="M523.2 87.29L517.95 84.44L517.95 90.14Z" fill="#4fe3d6"/>
<path d="M563.3 107.46L558.05 104.61L558.05 110.31Z" fill="#4fe3d6"/>
<path d="M586.5 119.4L581.25 116.55L581.25 122.25Z" fill="#4fe3d6"/>
<path d="M604.8 127.23L599.55 124.38L599.55 130.08Z" fill="#4fe3d6"/>
<path d="M617.7 132.54L612.45 129.69L612.45 135.39Z" fill="#4fe3d6"/>
<path d="M633.7 139.47L628.45 136.62L628.45 142.32Z" fill="#4fe3d6"/>
<path d="M499.5 80.67L547.5 110.17L567.5 120L576.7 124.12L610.6 141.47L621.5 145.99" fill="none" stroke="#6e3d3d" stroke-width="1.25" stroke-linejoin="round"/>
<circle cx="499.5" cy="80.67" r="2.6" fill="#6e3d3d"/>
<circle cx="547.5" cy="110.17" r="2.6" fill="#6e3d3d"/>
<circle cx="567.5" cy="120" r="2.6" fill="#6e3d3d"/>
<circle cx="576.7" cy="124.12" r="2.6" fill="#6e3d3d"/>
<circle cx="610.6" cy="141.47" r="2.6" fill="#6e3d3d"/>
<circle cx="621.5" cy="145.99" r="2.6" fill="#6e3d3d"/>
<path d="M638.2 5.9H657.6" stroke="#474747" stroke-width="1.3"/>
<rect x="645.49" y="3.49" width="4.83" height="4.83" fill="#474747"/>
<text x="659.5" y="8.7" font-family="Liberation Serif, serif" font-weight="bold" font-size="8" fill="#111" stroke="#111" stroke-width="0.22">450 nm</text>
<path d="M638.2 15.97H657.6" stroke="#f23a3e" stroke-width="1.3"/>
<circle cx="647.9" cy="15.97" r="2.73" fill="#f23a3e"/>
<text x="659.5" y="18.77" font-family="Liberation Serif, serif" font-weight="bold" font-size="8" fill="#111" stroke="#111" stroke-width="0.22">500 nm</text>
<path d="M638.2 26.04H657.6" stroke="#3a6be6" stroke-width="1.3"/>
<path d="M647.9 22.89L650.89 28.4L644.91 28.4Z" fill="#3a6be6"/>
<text x="659.5" y="28.84" font-family="Liberation Serif, serif" font-weight="bold" font-size="8" fill="#111" stroke="#111" stroke-width="0.22">550 nm</text>
<path d="M638.2 36.11H657.6" stroke="#4cb867" stroke-width="1.3"/>
<path d="M647.9 39.26L650.89 33.75L644.91 33.75Z" fill="#4cb867"/>
<text x="659.5" y="38.91" font-family="Liberation Serif, serif" font-weight="bold" font-size="8" fill="#111" stroke="#111" stroke-width="0.22">600 nm</text>
<path d="M638.2 46.18H657.6" stroke="#a86cf0" stroke-width="1.3"/>
<path d="M647.9 43.03L651.05 46.18L647.9 49.33L644.75 46.18Z" fill="#a86cf0"/>
<text x="659.5" y="48.98" font-family="Liberation Serif, serif" font-weight="bold" font-size="8" fill="#111" stroke="#111" stroke-width="0.22">650 nm</text>
<path d="M638.2 56.25H657.6" stroke="#c49b2c" stroke-width="1.3"/>
<path d="M644.75 56.25L650.26 53.26L650.26 59.24Z" fill="#c49b2c"/>
<text x="659.5" y="59.05" font-family="Liberation Serif, serif" font-weight="bold" font-size="8" fill="#111" stroke="#111" stroke-width="0.22">700 nm</text>
<path d="M638.2 66.32H657.6" stroke="#4fe3d6" stroke-width="1.3"/>
<path d="M651.05 66.32L645.54 63.33L645.54 69.31Z" fill="#4fe3d6"/>
<text x="659.5" y="69.12" font-family="Liberation Serif, serif" font-weight="bold" font-size="8" fill="#111" stroke="#111" stroke-width="0.22">800 nm</text>
<path d="M638.2 76.39H657.6" stroke="#6e3d3d" stroke-width="1.3"/>
<circle cx="647.9" cy="76.39" r="2.73" fill="#6e3d3d"/>
<text x="659.5" y="79.19" font-family="Liberation Serif, serif" font-weight="bold" font-size="8" fill="#111" stroke="#111" stroke-width="0.22">900 nm</text>
<text x="459.7" y="11.6" font-family="Liberation Serif, serif" font-weight="bold" font-size="13.7" fill="#111" stroke="#111" stroke-width="0.22">(c)</text>
<text x="562.85" y="176.8" font-family="Liberation Sans, sans-serif" font-weight="bold" font-size="8.6" fill="#1a1a1a" stroke="#1a1a1a" stroke-width="0.18" text-anchor="middle">Laser power (<tspan font-family="Liberation Serif, serif">μ</tspan>W)</text>
<text transform="translate(471.6,79.77) rotate(-90)" font-family="Liberation Sans, sans-serif" font-weight="bold" font-size="8.6" fill="#1a1a1a" stroke="#1a1a1a" stroke-width="0.18" text-anchor="middle">D<tspan font-size="6" dy="-3">*</tspan><tspan dy="3"> (Jones)</tspan></text>
<text x="492.3" y="151" font-family="Liberation Serif, serif" font-weight="bold" font-size="7.7" fill="#111" stroke="#111" stroke-width="0.22">V<tspan font-size="4.9" dy="2.0">ds</tspan><tspan dy="-2.0">= 2 V</tspan></text>
<rect x="34.6" y="183.4" width="149.6" height="156.45" fill="none" stroke="#000" stroke-width="1.4"/>
<path d="M40.66 339.85v-1.8M40.66 183.4v1.8M49.43 339.85v-1.8M49.43 183.4v1.8M55.66 339.85v-1.8M55.66 183.4v1.8M60.49 339.85v-1.8M60.49 183.4v1.8M64.44 339.85v-1.8M64.44 183.4v1.8M67.78 339.85v-1.8M67.78 183.4v1.8M70.67 339.85v-1.8M70.67 183.4v1.8M73.22 339.85v-1.8M73.22 183.4v1.8M75.5 339.85v-3M75.5 183.4v3M90.51 339.85v-1.8M90.51 183.4v1.8M99.28 339.85v-1.8M99.28 183.4v1.8M105.51 339.85v-1.8M105.51 183.4v1.8M110.34 339.85v-1.8M110.34 183.4v1.8M114.29 339.85v-1.8M114.29 183.4v1.8M117.63 339.85v-1.8M117.63 183.4v1.8M120.52 339.85v-1.8M120.52 183.4v1.8M123.07 339.85v-1.8M123.07 183.4v1.8M125.35 339.85v-3M125.35 183.4v3M140.36 339.85v-1.8M140.36 183.4v1.8M149.13 339.85v-1.8M149.13 183.4v1.8M155.36 339.85v-1.8M155.36 183.4v1.8M160.19 339.85v-1.8M160.19 183.4v1.8M164.14 339.85v-1.8M164.14 183.4v1.8M167.48 339.85v-1.8M167.48 183.4v1.8M170.37 339.85v-1.8M170.37 183.4v1.8M172.92 339.85v-1.8M172.92 183.4v1.8M175.2 339.85v-3M175.2 183.4v3" stroke="#000" stroke-width="1" fill="none"/>
<path d="M34.6 318.84h1.8M184.2 318.84h-1.8M34.6 304.82h1.8M184.2 304.82h-1.8M34.6 294.88h1.8M184.2 294.88h-1.8M34.6 287.16h1.8M184.2 287.16h-1.8M34.6 280.86h1.8M184.2 280.86h-1.8M34.6 275.53h1.8M184.2 275.53h-1.8M34.6 270.91h1.8M184.2 270.91h-1.8M34.6 266.84h1.8M184.2 266.84h-1.8M34.6 263.2h3M184.2 263.2h-3M34.6 239.24h1.8M184.2 239.24h-1.8M34.6 225.22h1.8M184.2 225.22h-1.8M34.6 215.28h1.8M184.2 215.28h-1.8M34.6 207.56h1.8M184.2 207.56h-1.8M34.6 201.26h1.8M184.2 201.26h-1.8M34.6 195.93h1.8M184.2 195.93h-1.8M34.6 191.31h1.8M184.2 191.31h-1.8M34.6 187.24h1.8M184.2 187.24h-1.8" stroke="#000" stroke-width="1" fill="none"/>
<text transform="translate(75.5,349.15) scale(1,1.14)" font-family="Liberation Sans, sans-serif" font-weight="bold" font-size="6.25" fill="#1a1a1a" text-anchor="middle">1</text>
<text transform="translate(125.35,349.15) scale(1,1.14)" font-family="Liberation Sans, sans-serif" font-weight="bold" font-size="6.25" fill="#1a1a1a" text-anchor="middle">10</text>
<text transform="translate(175.2,349.15) scale(1,1.14)" font-family="Liberation Sans, sans-serif" font-weight="bold" font-size="6.25" fill="#1a1a1a" text-anchor="middle">100</text>
<text transform="translate(31,265.5) scale(1,1.14)" font-family="Liberation Sans, sans-serif" font-weight="bold" font-size="6.25" fill="#1a1a1a" text-anchor="end">10</text>
<text transform="translate(31,185.9) scale(1,1.14)" font-family="Liberation Sans, sans-serif" font-weight="bold" font-size="6.25" fill="#1a1a1a" text-anchor="end">100</text>
<path d="M40.8 212.4L60.5 224.4L90.4 251.6L99.1 251.2L117.4 269.6L125.3 271.5L152.7 274.9" fill="none" stroke="#474747" stroke-width="1.25" stroke-linejoin="round"/>
<rect x="38.5" y="210.1" width="4.6" height="4.6" fill="#474747"/>
<rect x="58.2" y="222.1" width="4.6" height="4.6" fill="#474747"/>
<rect x="88.1" y="249.3" width="4.6" height="4.6" fill="#474747"/>
<rect x="96.8" y="248.9" width="4.6" height="4.6" fill="#474747"/>
<rect x="115.1" y="267.3" width="4.6" height="4.6" fill="#474747"/>
<rect x="123" y="269.2" width="4.6" height="4.6" fill="#474747"/>
<rect x="150.4" y="272.6" width="4.6" height="4.6" fill="#474747"/>
<path d="M60.3 245.5L90.5 275L114.2 294.9L125.2 297L135.4 299.8L142.2 301.1L149 302.7" fill="none" stroke="#f23a3e" stroke-width="1.25" stroke-linejoin="round"/>
<circle cx="60.3" cy="245.5" r="2.6" fill="#f23a3e"/>
<circle cx="90.5" cy="275" r="2.6" fill="#f23a3e"/>
<circle cx="114.2" cy="294.9" r="2.6" fill="#f23a3e"/>
<circle cx="125.2" cy="297" r="2.6" fill="#f23a3e"/>
<circle cx="135.4" cy="299.8" r="2.6" fill="#f23a3e"/>
<circle cx="142.2" cy="301.1" r="2.6" fill="#f23a3e"/>
<circle cx="149" cy="302.7" r="2.6" fill="#f23a3e"/>
<path d="M67.1 256.8L110 302.1L131.2 314L142.2 314L151.2 319.1L159 319.9L165.6 319.3" fill="none" stroke="#3a6be6" stroke-width="1.25" stroke-linejoin="round"/>
<path d="M67.1 253.8L69.95 259.05L64.25 259.05Z" fill="#3a6be6"/>
<path d="M110 299.1L112.85 304.35L107.15 304.35Z" fill="#3a6be6"/>
<path d="M131.2 311L134.05 316.25L128.35 316.25Z" fill="#3a6be6"/>
<path d="M142.2 311L145.05 316.25L139.35 316.25Z" fill="#3a6be6"/>
<path d="M151.2 316.1L154.05 321.35L148.35 321.35Z" fill="#3a6be6"/>
<path d="M159 316.9L161.85 322.15L156.15 322.15Z" fill="#3a6be6"/>
<path d="M165.6 316.3L168.45 321.55L162.75 321.55Z" fill="#3a6be6"/>
<path d="M75.5 256.6L122.7 303.4L141.2 307.9L153.5 312L162.8 313.2L170 315.8L176.3 317.5" fill="none" stroke="#4cb867" stroke-width="1.25" stroke-linejoin="round"/>
<path d="M75.5 259.6L78.35 254.35L72.65 254.35Z" fill="#4cb867"/>
<path d="M122.7 306.4L125.55 301.15L119.85 301.15Z" fill="#4cb867"/>
<path d="M141.2 310.9L144.05 305.65L138.35 305.65Z" fill="#4cb867"/>
<path d="M153.5 315L156.35 309.75L150.65 309.75Z" fill="#4cb867"/>
<path d="M162.8 316.2L165.65 310.95L159.95 310.95Z" fill="#4cb867"/>
<path d="M170 318.8L172.85 313.55L167.15 313.55Z" fill="#4cb867"/>
<path d="M176.3 320.5L179.15 315.25L173.45 315.25Z" fill="#4cb867"/>
<path d="M64.2 251.4L117.6 304.7L137.8 314.2L151.8 317.4L161.1 319.9L168.2 322.7L174.8 324.6" fill="none" stroke="#a86cf0" stroke-width="1.25" stroke-linejoin="round"/>
<path d="M64.2 248.4L67.2 251.4L64.2 254.4L61.2 251.4Z" fill="#a86cf0"/>
<path d="M117.6 301.7L120.6 304.7L117.6 307.7L114.6 304.7Z" fill="#a86cf0"/>
<path d="M137.8 311.2L140.8 314.2L137.8 317.2L134.8 314.2Z" fill="#a86cf0"/>
<path d="M151.8 314.4L154.8 317.4L151.8 320.4L148.8 317.4Z" fill="#a86cf0"/>
<path d="M161.1 316.9L164.1 319.9L161.1 322.9L158.1 319.9Z" fill="#a86cf0"/>
<path d="M168.2 319.7L171.2 322.7L168.2 325.7L165.2 322.7Z" fill="#a86cf0"/>
<path d="M174.8 321.6L177.8 324.6L174.8 327.6L171.8 324.6Z" fill="#a86cf0"/>
<path d="M184.95 188H204.35" stroke="#474747" stroke-width="1.3"/>
<rect x="192.23" y="185.59" width="4.83" height="4.83" fill="#474747"/>
<text x="206.25" y="190.8" font-family="Liberation Serif, serif" font-weight="bold" font-size="8" fill="#111" stroke="#111" stroke-width="0.22">450 nm</text>
<path d="M184.95 198.2H204.35" stroke="#f23a3e" stroke-width="1.3"/>
<circle cx="194.65" cy="198.2" r="2.73" fill="#f23a3e"/>
<text x="206.25" y="201" font-family="Liberation Serif, serif" font-weight="bold" font-size="8" fill="#111" stroke="#111" stroke-width="0.22">500 nm</text>
<path d="M184.95 208.4H204.35" stroke="#3a6be6" stroke-width="1.3"/>
<path d="M194.65 205.25L197.64 210.76L191.66 210.76Z" fill="#3a6be6"/>
<text x="206.25" y="211.2" font-family="Liberation Serif, serif" font-weight="bold" font-size="8" fill="#111" stroke="#111" stroke-width="0.22">550 nm</text>
<path d="M184.95 218.6H204.35" stroke="#4cb867" stroke-width="1.3"/>
<path d="M194.65 221.75L197.64 216.24L191.66 216.24Z" fill="#4cb867"/>
<text x="206.25" y="221.4" font-family="Liberation Serif, serif" font-weight="bold" font-size="8" fill="#111" stroke="#111" stroke-width="0.22">600 nm</text>
<path d="M184.95 228.8H204.35" stroke="#a86cf0" stroke-width="1.3"/>
<path d="M194.65 225.65L197.8 228.8L194.65 231.95L191.5 228.8Z" fill="#a86cf0"/>
<text x="206.25" y="231.6" font-family="Liberation Serif, serif" font-weight="bold" font-size="8" fill="#111" stroke="#111" stroke-width="0.22">650 nm</text>
<text x="0.3" y="194.1" font-family="Liberation Serif, serif" font-weight="bold" font-size="13.7" fill="#111" stroke="#111" stroke-width="0.22">(d)</text>
<text x="109.6" y="358.6" font-family="Liberation Sans, sans-serif" font-weight="bold" font-size="8.6" fill="#1a1a1a" stroke="#1a1a1a" stroke-width="0.18" text-anchor="middle">Laser power (<tspan font-family="Liberation Serif, serif">μ</tspan>W)</text>
<text transform="translate(21.1,262) rotate(-90)" font-family="Liberation Sans, sans-serif" font-weight="bold" font-size="8.6" fill="#1a1a1a" stroke="#1a1a1a" stroke-width="0.18" text-anchor="middle">R (mAW<tspan font-size="5.5" dy="-3.3">-1</tspan><tspan dy="3.3">)</tspan></text>
<text x="39.7" y="333.4" font-family="Liberation Serif, serif" font-weight="bold" font-size="7.7" fill="#111" stroke="#111" stroke-width="0.22">V<tspan font-size="4.9" dy="2.0">ds</tspan><tspan dy="-2.0">= 0 V</tspan></text>
<rect x="260.5" y="183.4" width="149.7" height="156.45" fill="none" stroke="#000" stroke-width="1.4"/>
<path d="M266.94 339.85v-1.8M266.94 183.4v1.8M275.73 339.85v-1.8M275.73 183.4v1.8M281.97 339.85v-1.8M281.97 183.4v1.8M286.81 339.85v-1.8M286.81 183.4v1.8M290.77 339.85v-1.8M290.77 183.4v1.8M294.11 339.85v-1.8M294.11 183.4v1.8M297.01 339.85v-1.8M297.01 183.4v1.8M299.56 339.85v-1.8M299.56 183.4v1.8M301.85 339.85v-3M301.85 183.4v3M316.89 339.85v-1.8M316.89 183.4v1.8M325.68 339.85v-1.8M325.68 183.4v1.8M331.92 339.85v-1.8M331.92 183.4v1.8M336.76 339.85v-1.8M336.76 183.4v1.8M340.72 339.85v-1.8M340.72 183.4v1.8M344.06 339.85v-1.8M344.06 183.4v1.8M346.96 339.85v-1.8M346.96 183.4v1.8M349.51 339.85v-1.8M349.51 183.4v1.8M351.8 339.85v-3M351.8 183.4v3M366.84 339.85v-1.8M366.84 183.4v1.8M375.63 339.85v-1.8M375.63 183.4v1.8M381.87 339.85v-1.8M381.87 183.4v1.8M386.71 339.85v-1.8M386.71 183.4v1.8M390.67 339.85v-1.8M390.67 183.4v1.8M394.01 339.85v-1.8M394.01 183.4v1.8M396.91 339.85v-1.8M396.91 183.4v1.8M399.46 339.85v-1.8M399.46 183.4v1.8M401.75 339.85v-3M401.75 183.4v3" stroke="#000" stroke-width="1" fill="none"/>
<path d="M260.5 327.8h1.8M410.2 327.8h-1.8M260.5 318.79h1.8M410.2 318.79h-1.8M260.5 311.8h1.8M410.2 311.8h-1.8M260.5 306.1h1.8M410.2 306.1h-1.8M260.5 301.27h1.8M410.2 301.27h-1.8M260.5 297.09h1.8M410.2 297.09h-1.8M260.5 293.4h1.8M410.2 293.4h-1.8M260.5 290.1h3M410.2 290.1h-3M260.5 268.4h1.8M410.2 268.4h-1.8M260.5 255.7h1.8M410.2 255.7h-1.8M260.5 246.69h1.8M410.2 246.69h-1.8M260.5 239.7h1.8M410.2 239.7h-1.8M260.5 234h1.8M410.2 234h-1.8M260.5 229.17h1.8M410.2 229.17h-1.8M260.5 224.99h1.8M410.2 224.99h-1.8M260.5 221.3h1.8M410.2 221.3h-1.8M260.5 218h3M410.2 218h-3M260.5 196.3h1.8M410.2 196.3h-1.8" stroke="#000" stroke-width="1" fill="none"/>
<text transform="translate(301.85,349.15) scale(1,1.14)" font-family="Liberation Sans, sans-serif" font-weight="bold" font-size="6.25" fill="#1a1a1a" text-anchor="middle">1</text>
<text transform="translate(351.8,349.15) scale(1,1.14)" font-family="Liberation Sans, sans-serif" font-weight="bold" font-size="6.25" fill="#1a1a1a" text-anchor="middle">10</text>
<text transform="translate(401.75,349.15) scale(1,1.14)" font-family="Liberation Sans, sans-serif" font-weight="bold" font-size="6.25" fill="#1a1a1a" text-anchor="middle">100</text>
<text transform="translate(256.9,292.4) scale(1,1.14)" font-family="Liberation Sans, sans-serif" font-weight="bold" font-size="6.25" fill="#1a1a1a" text-anchor="end">1</text>
<text transform="translate(256.9,220.3) scale(1,1.14)" font-family="Liberation Sans, sans-serif" font-weight="bold" font-size="6.25" fill="#1a1a1a" text-anchor="end">10</text>
<path d="M267.08 212.35L286.82 223.22L316.78 247.85L325.5 247.49L343.83 264.16L351.75 265.88L379.2 268.96" fill="none" stroke="#474747" stroke-width="1.25" stroke-linejoin="round"/>
<rect x="264.78" y="210.05" width="4.6" height="4.6" fill="#474747"/>
<rect x="284.52" y="220.92" width="4.6" height="4.6" fill="#474747"/>
<rect x="314.48" y="245.55" width="4.6" height="4.6" fill="#474747"/>
<rect x="323.2" y="245.19" width="4.6" height="4.6" fill="#474747"/>
<rect x="341.53" y="261.86" width="4.6" height="4.6" fill="#474747"/>
<rect x="349.45" y="263.58" width="4.6" height="4.6" fill="#474747"/>
<rect x="376.9" y="266.66" width="4.6" height="4.6" fill="#474747"/>
<path d="M286.62 245.63L316.88 272.35L340.63 290.37L351.65 292.28L361.87 294.81L368.68 295.99L375.5 297.44" fill="none" stroke="#f23a3e" stroke-width="1.25" stroke-linejoin="round"/>
<circle cx="286.62" cy="245.63" r="2.6" fill="#f23a3e"/>
<circle cx="316.88" cy="272.35" r="2.6" fill="#f23a3e"/>
<circle cx="340.63" cy="290.37" r="2.6" fill="#f23a3e"/>
<circle cx="351.65" cy="292.28" r="2.6" fill="#f23a3e"/>
<circle cx="361.87" cy="294.81" r="2.6" fill="#f23a3e"/>
<circle cx="368.68" cy="295.99" r="2.6" fill="#f23a3e"/>
<circle cx="375.5" cy="297.44" r="2.6" fill="#f23a3e"/>
<path d="M293.43 258.85L336.42 299.88L357.66 310.66L368.68 310.66L377.7 315.28L385.52 316L392.13 315.46" fill="none" stroke="#3a6be6" stroke-width="1.25" stroke-linejoin="round"/>
<path d="M293.43 255.85L296.28 261.1L290.58 261.1Z" fill="#3a6be6"/>
<path d="M336.42 296.88L339.27 302.13L333.57 302.13Z" fill="#3a6be6"/>
<path d="M357.66 307.66L360.51 312.91L354.81 312.91Z" fill="#3a6be6"/>
<path d="M368.68 307.66L371.53 312.91L365.83 312.91Z" fill="#3a6be6"/>
<path d="M377.7 312.28L380.55 317.53L374.85 317.53Z" fill="#3a6be6"/>
<path d="M385.52 313L388.37 318.25L382.67 318.25Z" fill="#3a6be6"/>
<path d="M392.13 312.46L394.98 317.71L389.28 317.71Z" fill="#3a6be6"/>
<path d="M301.85 261.39L349.14 303.78L367.68 307.86L380.01 311.57L389.33 312.66L396.54 315.01L402.85 316.55" fill="none" stroke="#4cb867" stroke-width="1.25" stroke-linejoin="round"/>
<path d="M301.85 264.39L304.7 259.14L299 259.14Z" fill="#4cb867"/>
<path d="M349.14 306.78L351.99 301.53L346.29 301.53Z" fill="#4cb867"/>
<path d="M367.68 310.86L370.53 305.61L364.83 305.61Z" fill="#4cb867"/>
<path d="M380.01 314.57L382.86 309.32L377.16 309.32Z" fill="#4cb867"/>
<path d="M389.33 315.66L392.18 310.41L386.48 310.41Z" fill="#4cb867"/>
<path d="M396.54 318.01L399.39 312.76L393.69 312.76Z" fill="#4cb867"/>
<path d="M402.85 319.55L405.7 314.3L400 314.3Z" fill="#4cb867"/>
<path d="M290.53 259.19L344.03 307.47L364.27 316.07L378.3 318.97L387.62 321.23L394.74 323.77L401.35 325.49" fill="none" stroke="#a86cf0" stroke-width="1.25" stroke-linejoin="round"/>
<path d="M290.53 256.19L293.53 259.19L290.53 262.19L287.53 259.19Z" fill="#a86cf0"/>
<path d="M344.03 304.47L347.03 307.47L344.03 310.47L341.03 307.47Z" fill="#a86cf0"/>
<path d="M364.27 313.07L367.27 316.07L364.27 319.07L361.27 316.07Z" fill="#a86cf0"/>
<path d="M378.3 315.97L381.3 318.97L378.3 321.97L375.3 318.97Z" fill="#a86cf0"/>
<path d="M387.62 318.23L390.62 321.23L387.62 324.23L384.62 321.23Z" fill="#a86cf0"/>
<path d="M394.74 320.77L397.74 323.77L394.74 326.77L391.74 323.77Z" fill="#a86cf0"/>
<path d="M401.35 322.49L404.35 325.49L401.35 328.49L398.35 325.49Z" fill="#a86cf0"/>
<path d="M410.95 188H430.35" stroke="#474747" stroke-width="1.3"/>
<rect x="418.23" y="185.59" width="4.83" height="4.83" fill="#474747"/>
<text x="432.25" y="190.8" font-family="Liberation Serif, serif" font-weight="bold" font-size="8" fill="#111" stroke="#111" stroke-width="0.22">450 nm</text>
<path d="M410.95 198.2H430.35" stroke="#f23a3e" stroke-width="1.3"/>
<circle cx="420.65" cy="198.2" r="2.73" fill="#f23a3e"/>
<text x="432.25" y="201" font-family="Liberation Serif, serif" font-weight="bold" font-size="8" fill="#111" stroke="#111" stroke-width="0.22">500 nm</text>
<path d="M410.95 208.4H430.35" stroke="#3a6be6" stroke-width="1.3"/>
<path d="M420.65 205.25L423.64 210.76L417.66 210.76Z" fill="#3a6be6"/>
<text x="432.25" y="211.2" font-family="Liberation Serif, serif" font-weight="bold" font-size="8" fill="#111" stroke="#111" stroke-width="0.22">550 nm</text>
<path d="M410.95 218.6H430.35" stroke="#4cb867" stroke-width="1.3"/>
<path d="M420.65 221.75L423.64 216.24L417.66 216.24Z" fill="#4cb867"/>
<text x="432.25" y="221.4" font-family="Liberation Serif, serif" font-weight="bold" font-size="8" fill="#111" stroke="#111" stroke-width="0.22">600 nm</text>
<path d="M410.95 228.8H430.35" stroke="#a86cf0" stroke-width="1.3"/>
<path d="M420.65 225.65L423.8 228.8L420.65 231.95L417.5 228.8Z" fill="#a86cf0"/>
<text x="432.25" y="231.6" font-family="Liberation Serif, serif" font-weight="bold" font-size="8" fill="#111" stroke="#111" stroke-width="0.22">650 nm</text>
<text x="236.9" y="193.8" font-family="Liberation Serif, serif" font-weight="bold" font-size="13.7" fill="#111" stroke="#111" stroke-width="0.22">(e)</text>
<text x="335.55" y="358.6" font-family="Liberation Sans, sans-serif" font-weight="bold" font-size="8.6" fill="#1a1a1a" stroke="#1a1a1a" stroke-width="0.18" text-anchor="middle">Laser power (<tspan font-family="Liberation Serif, serif">μ</tspan>W)</text>
<text transform="translate(247.3,261.6) rotate(-90)" font-family="Liberation Sans, sans-serif" font-weight="bold" font-size="8.6" fill="#1a1a1a" stroke="#1a1a1a" stroke-width="0.18" text-anchor="middle">EQE (%)</text>
<text x="265.6" y="333.4" font-family="Liberation Serif, serif" font-weight="bold" font-size="7.7" fill="#111" stroke="#111" stroke-width="0.22">V<tspan font-size="4.9" dy="2.0">ds</tspan><tspan dy="-2.0">= 0 V</tspan></text>
<rect x="488.7" y="183.4" width="149.8" height="156.45" fill="none" stroke="#000" stroke-width="1.4"/>
<path d="M489.24 339.85v-1.8M489.24 183.4v1.8M496.31 339.85v-1.8M496.31 183.4v1.8M501.32 339.85v-1.8M501.32 183.4v1.8M505.21 339.85v-1.8M505.21 183.4v1.8M508.39 339.85v-1.8M508.39 183.4v1.8M511.08 339.85v-1.8M511.08 183.4v1.8M513.41 339.85v-1.8M513.41 183.4v1.8M515.46 339.85v-1.8M515.46 183.4v1.8M517.3 339.85v-3M517.3 183.4v3M529.39 339.85v-1.8M529.39 183.4v1.8M536.46 339.85v-1.8M536.46 183.4v1.8M541.47 339.85v-1.8M541.47 183.4v1.8M545.36 339.85v-1.8M545.36 183.4v1.8M548.54 339.85v-1.8M548.54 183.4v1.8M551.23 339.85v-1.8M551.23 183.4v1.8M553.56 339.85v-1.8M553.56 183.4v1.8M555.61 339.85v-1.8M555.61 183.4v1.8M557.45 339.85v-3M557.45 183.4v3M569.54 339.85v-1.8M569.54 183.4v1.8M576.61 339.85v-1.8M576.61 183.4v1.8M581.62 339.85v-1.8M581.62 183.4v1.8M585.51 339.85v-1.8M585.51 183.4v1.8M588.69 339.85v-1.8M588.69 183.4v1.8M591.38 339.85v-1.8M591.38 183.4v1.8M593.71 339.85v-1.8M593.71 183.4v1.8M595.76 339.85v-1.8M595.76 183.4v1.8M597.6 339.85v-3M597.6 183.4v3M609.69 339.85v-1.8M609.69 183.4v1.8M616.76 339.85v-1.8M616.76 183.4v1.8M621.77 339.85v-1.8M621.77 183.4v1.8M625.66 339.85v-1.8M625.66 183.4v1.8M628.84 339.85v-1.8M628.84 183.4v1.8M631.53 339.85v-1.8M631.53 183.4v1.8M633.86 339.85v-1.8M633.86 183.4v1.8M635.91 339.85v-1.8M635.91 183.4v1.8M637.75 339.85v-3M637.75 183.4v3" stroke="#000" stroke-width="1" fill="none"/>
<path d="M488.7 333.73h1.8M638.5 333.73h-1.8M488.7 330.11h1.8M638.5 330.11h-1.8M488.7 327.55h1.8M638.5 327.55h-1.8M488.7 325.56h1.8M638.5 325.56h-1.8M488.7 323.93h1.8M638.5 323.93h-1.8M488.7 322.56h1.8M638.5 322.56h-1.8M488.7 321.37h1.8M638.5 321.37h-1.8M488.7 320.32h1.8M638.5 320.32h-1.8M488.7 319.38h3M638.5 319.38h-3M488.7 313.2h1.8M638.5 313.2h-1.8M488.7 309.58h1.8M638.5 309.58h-1.8M488.7 307.02h1.8M638.5 307.02h-1.8M488.7 305.03h1.8M638.5 305.03h-1.8M488.7 303.4h1.8M638.5 303.4h-1.8M488.7 302.03h1.8M638.5 302.03h-1.8M488.7 300.84h1.8M638.5 300.84h-1.8M488.7 299.79h1.8M638.5 299.79h-1.8M488.7 298.85h3M638.5 298.85h-3M488.7 292.67h1.8M638.5 292.67h-1.8M488.7 289.05h1.8M638.5 289.05h-1.8M488.7 286.49h1.8M638.5 286.49h-1.8M488.7 284.5h1.8M638.5 284.5h-1.8M488.7 282.87h1.8M638.5 282.87h-1.8M488.7 281.5h1.8M638.5 281.5h-1.8M488.7 280.31h1.8M638.5 280.31h-1.8M488.7 279.26h1.8M638.5 279.26h-1.8M488.7 278.32h3M638.5 278.32h-3M488.7 272.14h1.8M638.5 272.14h-1.8M488.7 268.52h1.8M638.5 268.52h-1.8M488.7 265.96h1.8M638.5 265.96h-1.8M488.7 263.97h1.8M638.5 263.97h-1.8M488.7 262.34h1.8M638.5 262.34h-1.8M488.7 260.97h1.8M638.5 260.97h-1.8M488.7 259.78h1.8M638.5 259.78h-1.8M488.7 258.73h1.8M638.5 258.73h-1.8M488.7 257.79h3M638.5 257.79h-3M488.7 251.61h1.8M638.5 251.61h-1.8M488.7 247.99h1.8M638.5 247.99h-1.8M488.7 245.43h1.8M638.5 245.43h-1.8M488.7 243.44h1.8M638.5 243.44h-1.8M488.7 241.81h1.8M638.5 241.81h-1.8M488.7 240.44h1.8M638.5 240.44h-1.8M488.7 239.25h1.8M638.5 239.25h-1.8M488.7 238.2h1.8M638.5 238.2h-1.8M488.7 237.26h3M638.5 237.26h-3M488.7 231.08h1.8M638.5 231.08h-1.8M488.7 227.46h1.8M638.5 227.46h-1.8M488.7 224.9h1.8M638.5 224.9h-1.8M488.7 222.91h1.8M638.5 222.91h-1.8M488.7 221.28h1.8M638.5 221.28h-1.8M488.7 219.91h1.8M638.5 219.91h-1.8M488.7 218.72h1.8M638.5 218.72h-1.8M488.7 217.67h1.8M638.5 217.67h-1.8M488.7 216.73h3M638.5 216.73h-3M488.7 210.55h1.8M638.5 210.55h-1.8M488.7 206.93h1.8M638.5 206.93h-1.8M488.7 204.37h1.8M638.5 204.37h-1.8M488.7 202.38h1.8M638.5 202.38h-1.8M488.7 200.75h1.8M638.5 200.75h-1.8M488.7 199.38h1.8M638.5 199.38h-1.8M488.7 198.19h1.8M638.5 198.19h-1.8M488.7 197.14h1.8M638.5 197.14h-1.8M488.7 196.2h3M638.5 196.2h-3M488.7 190.02h1.8M638.5 190.02h-1.8M488.7 186.4h1.8M638.5 186.4h-1.8M488.7 183.84h1.8M638.5 183.84h-1.8" stroke="#000" stroke-width="1" fill="none"/>
<text transform="translate(517.6,349.85) scale(1,1.14)" font-family="Liberation Sans, sans-serif" font-weight="bold" font-size="6.25" fill="#1a1a1a" text-anchor="middle">10<tspan font-size="4.25" dy="-2">1</tspan></text>
<text transform="translate(557.75,349.85) scale(1,1.14)" font-family="Liberation Sans, sans-serif" font-weight="bold" font-size="6.25" fill="#1a1a1a" text-anchor="middle">10<tspan font-size="4.25" dy="-2">2</tspan></text>
<text transform="translate(597.9,349.85) scale(1,1.14)" font-family="Liberation Sans, sans-serif" font-weight="bold" font-size="6.25" fill="#1a1a1a" text-anchor="middle">10<tspan font-size="4.25" dy="-2">3</tspan></text>
<text transform="translate(638.05,349.85) scale(1,1.14)" font-family="Liberation Sans, sans-serif" font-weight="bold" font-size="6.25" fill="#1a1a1a" text-anchor="middle">10<tspan font-size="4.25" dy="-2">4</tspan></text>
<text transform="translate(485.1,342.41) scale(1,1.14)" font-family="Liberation Sans, sans-serif" font-weight="bold" font-size="6.25" fill="#1a1a1a" text-anchor="end">10<tspan font-size="4.25" dy="-2">8</tspan></text>
<text transform="translate(485.1,321.88) scale(1,1.14)" font-family="Liberation Sans, sans-serif" font-weight="bold" font-size="6.25" fill="#1a1a1a" text-anchor="end">10<tspan font-size="4.25" dy="-2">9</tspan></text>
<text transform="translate(485.1,301.35) scale(1,1.14)" font-family="Liberation Sans, sans-serif" font-weight="bold" font-size="6.25" fill="#1a1a1a" text-anchor="end">10<tspan font-size="4.25" dy="-2">10</tspan></text>
<text transform="translate(485.1,280.82) scale(1,1.14)" font-family="Liberation Sans, sans-serif" font-weight="bold" font-size="6.25" fill="#1a1a1a" text-anchor="end">10<tspan font-size="4.25" dy="-2">11</tspan></text>
<text transform="translate(485.1,260.29) scale(1,1.14)" font-family="Liberation Sans, sans-serif" font-weight="bold" font-size="6.25" fill="#1a1a1a" text-anchor="end">10<tspan font-size="4.25" dy="-2">12</tspan></text>
<text transform="translate(485.1,239.76) scale(1,1.14)" font-family="Liberation Sans, sans-serif" font-weight="bold" font-size="6.25" fill="#1a1a1a" text-anchor="end">10<tspan font-size="4.25" dy="-2">13</tspan></text>
<text transform="translate(485.1,219.23) scale(1,1.14)" font-family="Liberation Sans, sans-serif" font-weight="bold" font-size="6.25" fill="#1a1a1a" text-anchor="end">10<tspan font-size="4.25" dy="-2">14</tspan></text>
<text transform="translate(485.1,198.7) scale(1,1.14)" font-family="Liberation Sans, sans-serif" font-weight="bold" font-size="6.25" fill="#1a1a1a" text-anchor="end">10<tspan font-size="4.25" dy="-2">15</tspan></text>
<text x="459.6" y="194.2" font-family="Liberation Serif, serif" font-weight="bold" font-size="13" fill="#111" stroke="#111" stroke-width="0.22">(f)</text>
<text x="564.2" y="359.2" font-family="Liberation Sans, sans-serif" font-weight="bold" font-size="8.6" fill="#1a1a1a" stroke="#1a1a1a" stroke-width="0.18" text-anchor="middle">R(AW<tspan font-size="5.5" dy="-3.3">-1</tspan><tspan dy="3.3">)</tspan></text>
<text transform="translate(468.9,262.3) rotate(-90)" font-family="Liberation Sans, sans-serif" font-weight="bold" font-size="8.6" fill="#1a1a1a" stroke="#1a1a1a" stroke-width="0.18" text-anchor="middle">D<tspan font-size="6" dy="-3">*</tspan><tspan dy="3"> (Jones)</tspan></text>
<text x="526.8" y="194.8" font-family="Liberation Serif, serif" font-weight="bold" font-size="7.2" fill="#1f1ff5" stroke="#1f1ff5" stroke-width="0.22" textLength="60.1" lengthAdjust="spacingAndGlyphs">MoS<tspan font-size="4.75" dy="2.1">2</tspan><tspan dy="-2.1">/NiO/Au/Al</tspan><tspan font-size="4.75" dy="2.1">2</tspan><tspan dy="-2.1">O</tspan><tspan font-size="4.75" dy="2.1">3</tspan></text>
<text x="527.2" y="203.3" font-family="Liberation Serif, serif" font-weight="bold" font-size="7.2" fill="#1f1ff5" stroke="#1f1ff5" stroke-width="0.22" textLength="57.3" lengthAdjust="spacingAndGlyphs"><tspan font-size="9.36">τ</tspan><tspan font-size="4.75" dy="2">rise/fall</tspan><tspan dy="-2"> = 0.86/0.46 s</tspan></text>
<text x="596.8" y="195.7" font-family="Liberation Serif, serif" font-weight="bold" font-size="5.9" fill="#1f1ff5" stroke="#1f1ff5" stroke-width="0.22" textLength="20.4" lengthAdjust="spacingAndGlyphs">[Ref. 18]</text>
<text x="586.7" y="210.4" font-family="Liberation Serif, serif" font-weight="bold" font-size="5.9" fill="#2f9a2f" stroke="#2f9a2f" stroke-width="0.22" textLength="20.5" lengthAdjust="spacingAndGlyphs">[Ref. 19]</text>
<text x="534.6" y="219.6" font-family="Liberation Serif, serif" font-weight="bold" font-size="7.2" fill="#2f9a2f" stroke="#2f9a2f" stroke-width="0.22" textLength="56.9" lengthAdjust="spacingAndGlyphs">MoS<tspan font-size="4.75" dy="2.1">2</tspan><tspan dy="-2.1">/NiO/Au/PEN</tspan></text>
<text x="537.7" y="228.3" font-family="Liberation Serif, serif" font-weight="bold" font-size="7.2" fill="#2f9a2f" stroke="#2f9a2f" stroke-width="0.22" textLength="50.2" lengthAdjust="spacingAndGlyphs"><tspan font-size="9.36">τ</tspan><tspan font-size="4.75" dy="2">rise/fall</tspan><tspan dy="-2"> = 0.3/1.6 s</tspan></text>
<text x="584.8" y="239" font-family="Liberation Serif, serif" font-weight="bold" font-size="8.8" fill="#8e1a1a" stroke="#8e1a1a" stroke-width="0.22" textLength="38.3" lengthAdjust="spacingAndGlyphs">This Work</text>
<text x="576.9" y="246.7" font-family="Liberation Serif, serif" font-weight="bold" font-size="7.2" fill="#8e1a1a" stroke="#8e1a1a" stroke-width="0.22" textLength="57.4" lengthAdjust="spacingAndGlyphs"><tspan font-size="9.36">τ</tspan><tspan font-size="4.75" dy="2">rise/fall</tspan><tspan dy="-2"> = 0.15/0.46 s</tspan></text>
<text x="518.5" y="260.2" font-family="Liberation Serif, serif" font-weight="bold" font-size="5.9" fill="#111" stroke="#111" stroke-width="0.22" textLength="20.9" lengthAdjust="spacingAndGlyphs">[Ref. 15]</text>
<text x="496.5" y="269.8" font-family="Liberation Serif, serif" font-weight="bold" font-size="7.2" fill="#111" stroke="#111" stroke-width="0.22" textLength="46.7" lengthAdjust="spacingAndGlyphs">WS<tspan font-size="4.75" dy="2.1">2</tspan><tspan dy="-2.1">/SiO</tspan><tspan font-size="4.75" dy="2.1">2</tspan><tspan dy="-2.1">/Au/Si</tspan></text>
<text x="493.2" y="278.5" font-family="Liberation Serif, serif" font-weight="bold" font-size="7.2" fill="#111" stroke="#111" stroke-width="0.22" textLength="56.8" lengthAdjust="spacingAndGlyphs"><tspan font-size="9.36">τ</tspan><tspan font-size="4.75" dy="2">rise/fall</tspan><tspan dy="-2"> = 0.15/0.17 s</tspan></text>
<text x="558.2" y="284.3" font-family="Liberation Serif, serif" font-weight="bold" font-size="7.2" fill="#8a8a1e" stroke="#8a8a1e" stroke-width="0.22" textLength="76.6" lengthAdjust="spacingAndGlyphs">MoS<tspan font-size="4.75" dy="2.1">2</tspan><tspan dy="-2.1">/Al</tspan><tspan font-size="4.75" dy="2.1">2</tspan><tspan dy="-2.1">O</tspan><tspan font-size="4.75" dy="2.1">3</tspan><tspan dy="-2.1">/Al/polyamide</tspan></text>
<text x="563.4" y="293.4" font-family="Liberation Serif, serif" font-weight="bold" font-size="7.2" fill="#8a8a1e" stroke="#8a8a1e" stroke-width="0.22" textLength="53.8" lengthAdjust="spacingAndGlyphs"><tspan font-size="9.36">τ</tspan><tspan font-size="4.75" dy="2">rise/fall</tspan><tspan dy="-2"> = 0.5/1.15 s</tspan></text>
<text x="601.6" y="301.1" font-family="Liberation Serif, serif" font-weight="bold" font-size="5.9" fill="#8a8a1e" stroke="#8a8a1e" stroke-width="0.22" textLength="20.6" lengthAdjust="spacingAndGlyphs">[Ref. 53]</text>
<text x="578.4" y="315.9" font-family="Liberation Serif, serif" font-weight="bold" font-size="5.9" fill="#ff2020" stroke="#ff2020" stroke-width="0.22" textLength="20.8" lengthAdjust="spacingAndGlyphs">[Ref. 52]</text>
<text x="548.9" y="324.5" font-family="Liberation Serif, serif" font-weight="bold" font-size="7.2" fill="#ff2020" stroke="#ff2020" stroke-width="0.22" textLength="51.5" lengthAdjust="spacingAndGlyphs">MoS<tspan font-size="4.75" dy="2.1">2</tspan><tspan dy="-2.1">/Al</tspan><tspan font-size="4.75" dy="2.1">2</tspan><tspan dy="-2.1">O</tspan><tspan font-size="4.75" dy="2.1">3</tspan><tspan dy="-2.1">/Al/Si</tspan></text>
<text x="548.6" y="333" font-family="Liberation Serif, serif" font-weight="bold" font-size="7.2" fill="#ff2020" stroke="#ff2020" stroke-width="0.22" textLength="50.6" lengthAdjust="spacingAndGlyphs"><tspan font-size="9.36">τ</tspan><tspan font-size="4.75" dy="2">rise/fall</tspan><tspan dy="-2"> = 0.1/0.5 s</tspan></text>
<rect x="511.75" y="255.85" width="4.5" height="4.5" fill="#111"/>
<path d="M591.7 191L592.43 192.99L594.55 193.07L592.89 194.39L593.46 196.43L591.7 195.25L589.94 196.43L590.51 194.39L588.85 193.07L590.97 192.99Z" fill="#1f1ff5"/>
<path d="M580.7 204.7L584.2 208.4L580.7 212.1L577.2 208.4Z" fill="#2f9a2f"/>
<circle cx="573.7" cy="314" r="2.65" fill="#ff2020"/>
<circle cx="596.3" cy="299.3" r="2.3" fill="#fff" stroke="#8a8a1e" stroke-width="0.9"/><path d="M594 299.3A2.3 2.3 0 0 1 598.6 299.3Z" fill="#8a8a1e"/>
<defs><radialGradient id="ball" cx="0.4" cy="0.35" r="0.65"><stop offset="0" stop-color="#eeb0b0"/><stop offset="0.22" stop-color="#a81414"/><stop offset="1" stop-color="#5e0404"/></radialGradient></defs>
<circle cx="624.9" cy="211.4" r="3.5" fill="url(#ball)"/>
<path d="M621.6 215.4L611.6 228.0" stroke="#8e1a1a" stroke-width="1.05"/><path d="M610.0 230.0L610.6 225.9L613.4 228.1Z" fill="#8e1a1a"/>
</svg>
</body></html>
